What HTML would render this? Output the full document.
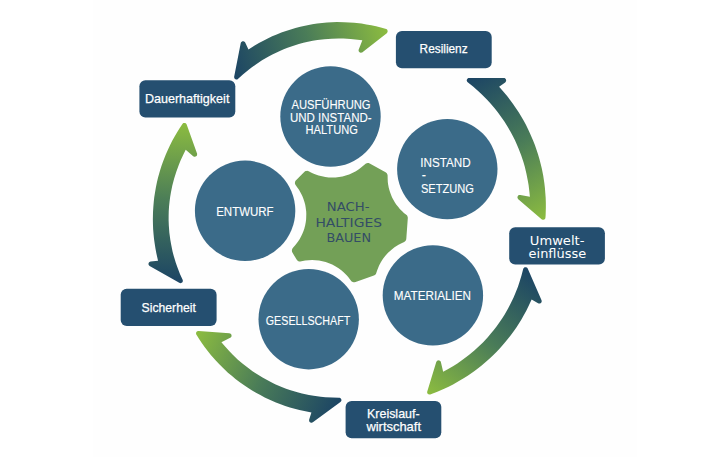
<!DOCTYPE html>
<html lang="de"><head><meta charset="utf-8"><title>Nachhaltiges Bauen</title>
<style>
html,body{margin:0;padding:0;background:#fff;}
body{width:710px;height:457px;overflow:hidden;}
svg{display:block;}
.t{font-family:"Liberation Sans",sans-serif;fill:#fff;}
.b{stroke:#fff;stroke-width:0.25px;}
.c{stroke:#fff;stroke-width:0.12px;}
.v{font-family:"DejaVu Sans","Liberation Sans",sans-serif;}
</style></head><body>
<svg width="710" height="457" viewBox="0 0 710 457">
<defs>
<linearGradient id="ag" gradientUnits="userSpaceOnUse" x1="-79" y1="0" x2="79" y2="0">
<stop offset="0" stop-color="#1d4664"/><stop offset="0.5" stop-color="#4a7c58"/><stop offset="1" stop-color="#8cbc40"/>
</linearGradient>
</defs>
<rect width="710" height="457" fill="#fff"/>
<rect x="93" y="0" width="544" height="457" fill="#fefefe"/>
<path transform="translate(311.75,53.15) rotate(-17.30)" d="M-64.8,-30.7 L-81.2,-0.4 L-81.3,0.3 L-81.3,0.9 L-81.1,1.5 L-80.8,2.0 L-80.3,2.5 L-79.7,2.8 L-79.1,2.9 L-78.5,2.9 L-77.9,2.6 L-72.1,-0.1 L-65.5,-2.8 L-61.0,-4.4 L-54.2,-6.6 L-49.6,-7.9 L-42.7,-9.5 L-38.0,-10.4 L-31.0,-11.4 L-26.3,-11.9 L-21.5,-12.3 L-14.4,-12.5 L-9.6,-12.5 L-4.9,-12.3 L-0.2,-12.0 L4.6,-11.5 L9.3,-10.8 L16.3,-9.5 L23.3,-7.9 L30.1,-6.0 L34.6,-4.5 L41.3,-2.0 L47.8,0.8 L52.1,2.8 L46.0,10.4 L45.6,10.9 L45.5,11.5 L45.4,12.2 L45.6,12.8 L45.9,13.3 L46.3,13.8 L46.8,14.1 L47.4,14.3 L47.7,14.3 L48.4,14.3 L48.7,14.2 L77.6,3.2 L78.1,2.9 L78.7,2.2 L79.0,1.7 L79.1,1.1 L79.0,0.2 L78.7,-0.4 L78.3,-0.9 L73.6,-3.9 L69.4,-6.5 L65.1,-8.9 L60.7,-11.2 L56.3,-13.4 L49.5,-16.4 L44.9,-18.2 L40.3,-19.9 L33.2,-22.2 L28.5,-23.5 L23.7,-24.7 L18.9,-25.7 L14.0,-26.6 L9.1,-27.4 L4.2,-28.0 L-3.1,-28.6 L-8.1,-28.8 L-13.0,-28.9 L-18.0,-28.9 L-22.9,-28.7 L-27.9,-28.3 L-32.8,-27.8 L-37.7,-27.1 L-42.5,-26.3 L-47.4,-25.4 L-52.2,-24.3 L-59.3,-22.4 L-60.3,-29.8 L-60.5,-30.4 L-60.8,-31.0 L-61.3,-31.4 L-61.5,-31.6 L-62.1,-31.8 L-62.7,-31.9 L-63.4,-31.8 L-63.9,-31.6 L-64.4,-31.2 Z" fill="url(#ag)"/>
<path transform="translate(507.60,149.60) rotate(61.62)" d="M-81.3,-0.2 L-81.5,0.4 L-81.6,1.0 L-81.5,1.6 L-81.2,2.2 L-81.0,2.4 L-80.6,2.9 L-80.0,3.2 L-79.4,3.3 L-78.8,3.3 L-78.2,3.1 L-71.9,0.4 L-65.3,-2.1 L-60.8,-3.6 L-54.0,-5.6 L-49.4,-6.8 L-42.5,-8.2 L-37.9,-9.1 L-30.9,-10.0 L-26.2,-10.5 L-21.5,-10.8 L-14.4,-11.1 L-9.6,-11.1 L-4.9,-10.9 L-0.2,-10.6 L4.5,-10.1 L11.5,-9.2 L18.5,-8.0 L23.1,-7.0 L29.9,-5.2 L36.7,-3.1 L41.2,-1.6 L47.8,1.0 L52.1,2.8 L46.0,10.4 L45.6,10.9 L45.5,11.5 L45.4,12.2 L45.6,12.8 L45.9,13.3 L46.3,13.8 L46.8,14.1 L47.1,14.2 L47.7,14.3 L48.4,14.3 L48.7,14.2 L77.4,3.2 L77.9,3.0 L78.4,2.5 L78.7,2.0 L78.8,1.7 L78.9,1.1 L78.9,0.8 L78.8,0.2 L78.7,-0.1 L78.3,-0.6 L77.8,-1.0 L75.6,-2.4 L69.2,-6.1 L64.9,-8.4 L60.5,-10.6 L56.0,-12.6 L51.5,-14.6 L46.9,-16.4 L40.0,-18.9 L32.9,-21.1 L28.2,-22.3 L23.4,-23.5 L18.6,-24.5 L13.8,-25.4 L8.9,-26.2 L4.0,-26.8 L-3.3,-27.4 L-8.2,-27.7 L-13.1,-27.9 L-18.0,-27.9 L-22.9,-27.7 L-27.9,-27.5 L-32.8,-27.0 L-37.6,-26.5 L-42.5,-25.8 L-47.3,-25.0 L-52.2,-24.0 L-59.3,-22.4 L-60.3,-29.8 L-60.5,-30.4 L-60.8,-31.0 L-61.0,-31.2 L-61.5,-31.6 L-62.1,-31.8 L-62.7,-31.9 L-63.4,-31.8 L-63.9,-31.6 L-64.4,-31.2 L-64.8,-30.7 Z" fill="url(#ag)"/>
<path transform="translate(477.45,332.40) rotate(128.02)" d="M-81.2,-0.3 L-81.4,0.3 L-81.5,0.6 L-81.5,1.2 L-81.3,1.8 L-81.0,2.3 L-80.5,2.8 L-79.9,3.1 L-79.3,3.2 L-78.7,3.2 L-78.1,3.0 L-71.9,0.3 L-65.3,-2.2 L-60.9,-3.8 L-54.1,-5.8 L-49.5,-7.0 L-42.6,-8.5 L-37.9,-9.4 L-30.9,-10.4 L-26.2,-10.8 L-21.5,-11.2 L-16.7,-11.4 L-12.0,-11.4 L-7.3,-11.3 L-2.6,-11.1 L4.5,-10.5 L11.5,-9.5 L16.2,-8.7 L23.1,-7.2 L30.0,-5.4 L36.8,-3.3 L41.2,-1.7 L47.8,0.9 L52.1,2.8 L46.0,10.4 L45.6,10.9 L45.5,11.5 L45.4,12.2 L45.6,12.8 L45.9,13.3 L46.3,13.8 L46.8,14.1 L47.4,14.3 L47.7,14.3 L48.4,14.3 L48.7,14.2 L77.4,3.2 L78.0,2.9 L78.4,2.5 L78.6,2.3 L78.9,1.7 L79.0,1.1 L79.0,0.8 L78.8,0.2 L78.5,-0.4 L78.3,-0.6 L77.9,-1.0 L75.6,-2.4 L71.4,-4.9 L64.9,-8.5 L60.5,-10.7 L56.0,-12.8 L49.3,-15.6 L44.7,-17.4 L40.1,-19.0 L33.0,-21.2 L28.2,-22.5 L23.5,-23.7 L18.7,-24.7 L13.8,-25.6 L9.0,-26.3 L4.1,-27.0 L-0.8,-27.4 L-8.2,-27.9 L-13.1,-28.0 L-18.0,-28.0 L-22.9,-27.9 L-27.9,-27.6 L-32.8,-27.2 L-37.6,-26.6 L-42.5,-25.9 L-47.4,-25.1 L-52.2,-24.1 L-59.3,-22.4 L-60.3,-29.8 L-60.5,-30.4 L-60.8,-31.0 L-61.3,-31.4 L-61.5,-31.6 L-62.1,-31.8 L-62.7,-31.9 L-63.4,-31.8 L-63.9,-31.6 L-64.4,-31.2 L-64.8,-30.7 Z" fill="url(#ag)"/>
<path transform="translate(267.35,366.90) rotate(-154.75)" d="M-81.1,-0.6 L-81.3,0.0 L-81.4,0.7 L-81.3,1.3 L-81.0,1.9 L-80.6,2.3 L-80.1,2.7 L-79.8,2.8 L-79.2,3.0 L-78.5,2.9 L-77.9,2.7 L-72.0,0.0 L-65.4,-2.7 L-61.0,-4.3 L-54.2,-6.4 L-49.6,-7.7 L-42.7,-9.3 L-38.0,-10.1 L-31.0,-11.2 L-26.2,-11.7 L-21.5,-12.0 L-14.4,-12.3 L-9.6,-12.2 L-4.9,-12.0 L-0.2,-11.7 L4.5,-11.2 L11.6,-10.2 L16.3,-9.3 L23.2,-7.8 L30.1,-5.9 L36.8,-3.6 L41.3,-1.9 L47.8,0.8 L52.1,2.8 L46.0,10.4 L45.6,10.9 L45.5,11.5 L45.4,12.2 L45.6,12.8 L45.9,13.3 L46.1,13.6 L46.6,14.0 L47.1,14.2 L47.7,14.3 L48.1,14.3 L48.7,14.2 L77.5,3.2 L78.1,2.9 L78.5,2.5 L78.9,2.0 L79.1,1.1 L79.0,0.5 L78.8,-0.1 L78.3,-0.9 L73.6,-3.9 L69.3,-6.4 L65.0,-8.8 L60.7,-11.1 L56.2,-13.3 L49.4,-16.2 L44.9,-18.0 L40.2,-19.7 L33.2,-22.0 L28.4,-23.3 L23.7,-24.5 L18.8,-25.5 L14.0,-26.4 L9.1,-27.2 L4.2,-27.8 L-0.7,-28.2 L-5.7,-28.5 L-10.6,-28.7 L-18.0,-28.7 L-22.9,-28.5 L-27.9,-28.1 L-32.8,-27.7 L-37.7,-27.0 L-42.5,-26.2 L-47.4,-25.3 L-52.2,-24.2 L-59.3,-22.4 L-60.3,-29.8 L-60.5,-30.4 L-60.8,-31.0 L-61.0,-31.2 L-61.5,-31.6 L-62.1,-31.8 L-62.7,-31.9 L-63.4,-31.8 L-63.9,-31.6 L-64.4,-31.2 L-64.8,-30.7 Z" fill="url(#ag)"/>
<path transform="translate(181.75,201.90) rotate(-88.73)" d="M-81.0,-0.7 L-81.2,-0.1 L-81.3,0.5 L-81.2,1.1 L-80.9,1.7 L-80.5,2.2 L-80.0,2.6 L-79.7,2.7 L-79.0,2.8 L-78.4,2.8 L-77.8,2.6 L-72.1,-0.2 L-65.5,-2.9 L-61.0,-4.6 L-54.3,-6.8 L-49.7,-8.1 L-42.7,-9.7 L-38.1,-10.6 L-31.0,-11.7 L-23.9,-12.4 L-19.1,-12.7 L-14.4,-12.8 L-9.6,-12.8 L-4.9,-12.6 L-0.1,-12.2 L4.6,-11.7 L9.3,-11.0 L16.3,-9.8 L23.3,-8.1 L30.1,-6.1 L36.9,-3.8 L41.3,-2.1 L47.8,0.7 L52.1,2.8 L46.0,10.4 L45.6,10.9 L45.5,11.5 L45.4,12.2 L45.6,12.8 L45.9,13.3 L46.3,13.8 L46.8,14.1 L47.4,14.3 L47.7,14.3 L48.4,14.3 L48.7,14.2 L77.5,3.2 L78.0,2.9 L78.5,2.5 L78.9,1.7 L79.0,1.1 L79.0,0.5 L78.8,-0.1 L78.2,-0.9 L73.6,-3.8 L69.3,-6.3 L65.0,-8.7 L60.6,-11.0 L56.2,-13.1 L51.7,-15.1 L47.1,-17.0 L40.2,-19.5 L35.5,-21.1 L30.8,-22.4 L23.6,-24.3 L18.8,-25.3 L13.9,-26.2 L9.1,-26.9 L4.1,-27.6 L-0.8,-28.0 L-5.7,-28.3 L-10.6,-28.5 L-18.0,-28.5 L-22.9,-28.3 L-27.9,-28.0 L-32.8,-27.5 L-37.6,-26.9 L-42.5,-26.1 L-47.4,-25.2 L-52.2,-24.2 L-59.3,-22.4 L-60.3,-29.8 L-60.5,-30.4 L-60.8,-31.0 L-61.0,-31.2 L-61.5,-31.6 L-62.1,-31.8 L-62.7,-31.9 L-63.4,-31.8 L-63.9,-31.6 L-64.4,-31.2 L-64.8,-30.7 Z" fill="url(#ag)"/>
<path d="M293.0,247.8 L292.3,248.7 L291.9,249.9 L291.9,250.7 L292.1,251.9 L292.4,252.6 L296.6,259.6 L297.4,260.5 L298.0,261.0 L299.0,261.4 L300.2,261.5 L305.2,260.6 L308.6,260.2 L312.1,260.1 L315.5,260.2 L319.0,260.6 L322.4,261.2 L325.7,262.1 L329.0,263.2 L332.2,264.6 L335.3,266.2 L338.2,268.0 L341.0,270.1 L343.6,272.3 L345.4,273.9 L346.9,275.6 L348.4,277.3 L351.2,280.9 L351.7,281.5 L352.8,282.1 L353.6,282.3 L354.4,282.3 L355.6,282.1 L373.9,275.4 L374.9,274.9 L375.5,274.4 L376.1,273.5 L377.3,269.9 L378.2,267.7 L379.1,265.6 L380.7,262.6 L381.9,260.5 L383.2,258.6 L384.6,256.8 L386.0,255.0 L388.3,252.5 L390.1,250.9 L391.8,249.4 L394.5,247.3 L396.5,246.0 L398.5,244.8 L401.5,243.2 L404.2,242.0 L404.8,241.6 L405.4,241.0 L405.9,240.3 L406.2,239.6 L406.3,238.8 L407.8,218.3 L407.8,217.5 L407.6,216.7 L407.1,215.6 L406.6,215.1 L403.9,212.9 L402.2,211.3 L399.8,208.9 L398.3,207.1 L396.2,204.4 L394.9,202.4 L393.2,199.5 L392.1,197.4 L391.2,195.3 L390.0,192.1 L389.3,189.8 L388.7,187.6 L388.1,184.2 L387.8,181.9 L387.7,179.6 L387.6,175.2 L387.2,174.0 L386.8,173.3 L386.2,172.8 L385.6,172.3 L369.7,163.5 L368.6,163.1 L367.8,163.0 L366.7,163.2 L365.6,163.7 L362.0,166.8 L359.2,168.9 L357.4,170.2 L355.4,171.4 L352.3,173.0 L349.1,174.4 L345.8,175.5 L342.5,176.4 L339.1,177.0 L335.6,177.4 L332.2,177.5 L328.7,177.4 L325.3,177.0 L323.1,176.6 L320.8,176.1 L318.6,175.5 L316.4,174.8 L313.1,173.5 L311.0,172.5 L308.7,171.2 L307.9,170.9 L307.1,170.8 L306.3,170.9 L305.5,171.1 L304.5,171.7 L295.8,180.4 L295.4,181.0 L295.1,181.7 L294.9,182.9 L295.0,183.7 L295.4,184.8 L297.7,187.9 L299.0,189.8 L300.2,191.9 L301.3,193.9 L302.3,196.0 L303.1,198.1 L303.9,200.2 L304.6,202.4 L305.2,204.7 L305.6,206.9 L305.9,209.3 L306.2,211.6 L306.3,213.9 L306.2,217.3 L306.1,219.6 L305.8,221.9 L305.2,225.3 L304.3,228.7 L303.5,230.9 L302.7,233.0 L301.3,236.1 L299.6,239.2 L297.7,242.1 L295.6,244.8 Z" fill="#73a057"/>
<circle cx="330.5" cy="116.5" r="50.2" fill="#3b6b89"/>
<circle cx="447.3" cy="169.1" r="50.2" fill="#3b6b89"/>
<circle cx="432.9" cy="295.4" r="50.2" fill="#3b6b89"/>
<circle cx="308.7" cy="319.2" r="50.2" fill="#3b6b89"/>
<circle cx="245.1" cy="210.8" r="50.2" fill="#3b6b89"/>
<text class="t c" x="291.4" y="109.0" font-size="13.1" textLength="79.2" lengthAdjust="spacingAndGlyphs">AUSFÜHRUNG</text>
<text class="t c" x="290.0" y="121.7" font-size="13.1" textLength="81.6" lengthAdjust="spacingAndGlyphs">UND INSTAND-</text>
<text class="t c" x="305.6" y="134.3" font-size="13.1" textLength="52.2" lengthAdjust="spacingAndGlyphs">HALTUNG</text>
<text class="t c" x="420.3" y="166.9" font-size="13.1" textLength="50.4" lengthAdjust="spacingAndGlyphs">INSTAND</text>
<text class="t c" x="421.7" y="178.8" font-size="13.1" textLength="4.2" lengthAdjust="spacingAndGlyphs">-</text>
<text class="t c" x="420.9" y="192.8" font-size="13.1" textLength="53.0" lengthAdjust="spacingAndGlyphs">SETZUNG</text>
<text class="t c" x="216.2" y="215.6" font-size="13.1" textLength="57.4" lengthAdjust="spacingAndGlyphs">ENTWURF</text>
<text class="t c" x="265.8" y="324.9" font-size="13.1" textLength="84.4" lengthAdjust="spacingAndGlyphs">GESELLSCHAFT</text>
<text class="t c" x="393.8" y="300.4" font-size="13.1" textLength="77.2" lengthAdjust="spacingAndGlyphs">MATERIALIEN</text>
<text class="v" x="326.8" y="210.9" font-size="13" textLength="42.6" lengthAdjust="spacingAndGlyphs" fill="#334d66">NACH-</text>
<text class="v" x="315.4" y="226.8" font-size="13" textLength="66.6" lengthAdjust="spacingAndGlyphs" fill="#334d66">HALTIGES</text>
<text class="v" x="326.4" y="242.2" font-size="13" textLength="44.6" lengthAdjust="spacingAndGlyphs" fill="#334d66">BAUEN</text>
<rect x="139.4" y="80.2" width="95.9" height="37.4" rx="6" fill="#254f70"/>
<rect x="395.9" y="30.9" width="95.8" height="37.3" rx="6" fill="#254f70"/>
<rect x="509.2" y="227.2" width="95.7" height="37.4" rx="6" fill="#254f70"/>
<rect x="345.6" y="400.9" width="95.7" height="37.3" rx="6" fill="#254f70"/>
<rect x="120.7" y="288.7" width="95.9" height="37.4" rx="6" fill="#254f70"/>
<text class="t b" x="144.9" y="102.8" font-size="13.6" textLength="84.5" lengthAdjust="spacingAndGlyphs">Dauerhaftigkeit</text>
<text class="t b" x="419.6" y="53.1" font-size="13.6" textLength="48.0" lengthAdjust="spacingAndGlyphs">Resilienz</text>
<text class="t v" x="529.8" y="244.9" font-size="13" textLength="54.6" lengthAdjust="spacingAndGlyphs">Umwelt-</text>
<text class="t v" x="528.6" y="257.8" font-size="13" textLength="57.5" lengthAdjust="spacingAndGlyphs">einflüsse</text>
<text class="t b" x="367.0" y="417.9" font-size="13.6" textLength="52.6" lengthAdjust="spacingAndGlyphs">Kreislauf-</text>
<text class="t b" x="366.4" y="430.9" font-size="13.6" textLength="54.6" lengthAdjust="spacingAndGlyphs">wirtschaft</text>
<text class="t b" x="141.6" y="312.1" font-size="13.6" textLength="54.2" lengthAdjust="spacingAndGlyphs">Sicherheit</text>
</svg></body></html>
